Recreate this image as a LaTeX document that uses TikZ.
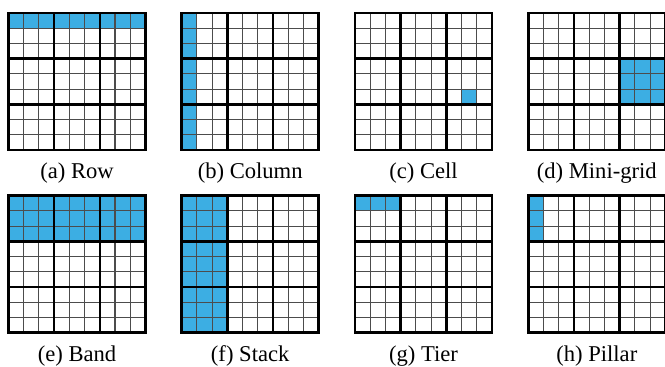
\documentclass[tikz,border=0pt]{standalone}
\usepackage{fontspec}
\setmainfont{Liberation Serif}
\definecolor{cellblue}{RGB}{60,174,227}

\begin{document}
\begin{tikzpicture}[x=0.5pt, y=-0.5pt,
	thin line/.style={black!70, line width=0.55pt},
	box line/.style={black, line width=1.3pt},
	pick/.style={fill=cellblue, draw=none},
	every node/.style={font=\fontsize{11.3}{13}\selectfont}]

	\useasboundingbox (0,0) rectangle (665,367);
	\clip (0,0) rectangle (665,367);

	\def\cw{15.22}

	% ============ HIGHLIGHTED CELLS ============

	% (a) one row, (b) one column, (c) one cell, (d) one mini-grid
	\fill[pick] (8.5,13) rectangle ++(9*\cw,\cw);
	\fill[pick] (181.7,13) rectangle ++(\cw,9*\cw);
	\fill[pick] (355+7*\cw,13+5*\cw) rectangle ++(\cw,\cw);
	\fill[pick] (528.3+6*\cw,13+3*\cw) rectangle ++(3*\cw,3*\cw);

	% (e) band, (f) stack, (g) tier, (h) pillar
	\fill[pick] (8.5,195.7) rectangle ++(9*\cw,3*\cw);
	\fill[pick] (181.7,195.7) rectangle ++(3*\cw,9*\cw);
	\fill[pick] (355,195.7) rectangle ++(3*\cw,\cw);
	\fill[pick] (528.3,195.7) rectangle ++(\cw,3*\cw);

	% ============ GRIDS AND CAPTIONS ============

	\foreach \gx/\gy/\tag/\name in {8.5/13/a/Row, 181.7/13/b/Column, 355/13/c/Cell, 528.3/13/d/Mini-grid,
		8.5/195.7/e/Band, 181.7/195.7/f/Stack, 355/195.7/g/Tier, 528.3/195.7/h/Pillar} {
		% thin cell lines
		\foreach \k in {1,2,4,5,7,8} {
			\draw[thin line] (\gx+\k*\cw, \gy) -- ++(0, 9*\cw);
			\draw[thin line] (\gx, \gy+\k*\cw) -- ++(9*\cw, 0);
		}
		% box lines
		\foreach \k in {3,6} {
			\draw[box line] (\gx+\k*\cw, \gy) -- ++(0, 9*\cw);
			\draw[box line] (\gx, \gy+\k*\cw) -- ++(9*\cw, 0);
		}
		\draw[box line] (\gx,\gy) rectangle ++(9*\cw,9*\cw);
		% caption
		\node[anchor=base] (lab_\tag) at (\gx+4.5*\cw, \gy+9*\cw+29) {(\tag) \name};
	}

\end{tikzpicture}
\end{document}
